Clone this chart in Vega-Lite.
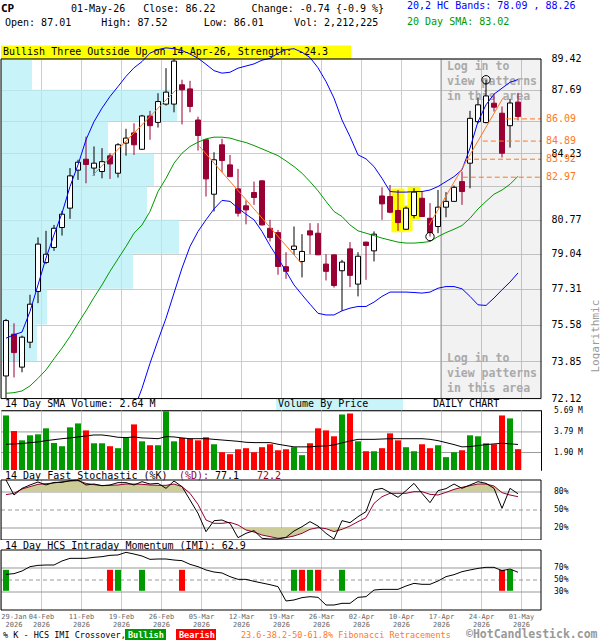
{
  "$schema": "https://vega.github.io/schema/vega-lite/v6.json",
  "padding": 0,
  "spacing": 0,
  "bounds": "flush",
  "background": "white",
  "config": {
    "font": "DejaVu Sans Mono",
    "view": {"stroke": null},
    "scale": {"continuousPadding": 0},
    "axis": {"labelFont": "DejaVu Sans Mono", "titleFont": "DejaVu Sans Mono"},
    "text": {"font": "DejaVu Sans Mono"}
  },
  "datasets": {
    "days": [
      {"day":0,"date":"2026-01-29","open":73.16,"high":75.85,"low":72.15,"close":75.77,"volume":5.30,"volSma":2.66,"upper":74.93,"lower":null,"sma":72.36,"k":100,"d":75.6,"imi":59.4},
      {"day":1,"date":"2026-01-30","open":75.12,"high":75.64,"low":73.09,"close":74.25,"volume":3.87,"volSma":2.69,"upper":75.09,"lower":null,"sma":72.39,"k":75,"d":77.8,"imi":60.6},
      {"day":2,"date":"2026-02-02","open":73.57,"high":75.05,"low":73.33,"close":74.98,"volume":3.02,"volSma":2.72,"upper":75.22,"lower":null,"sma":72.47,"k":86,"d":85,"imi":65},
      {"day":3,"date":"2026-02-03","open":74.74,"high":77.02,"low":74.46,"close":76.56,"volume":3.48,"volSma":2.81,"upper":76.21,"lower":null,"sma":72.70,"k":91.7,"d":88.9,"imi":72.2},
      {"day":4,"date":"2026-02-04","open":77.18,"high":79.87,"low":76.61,"close":79.53,"volume":3.57,"volSma":2.87,"upper":77.50,"lower":null,"sma":73.05,"k":96.7,"d":92.8,"imi":74.4},
      {"day":5,"date":"2026-02-05","open":78.61,"high":80.20,"low":78.53,"close":79.02,"volume":4.12,"volSma":2.99,"upper":78.83,"lower":null,"sma":73.44,"k":91.7,"d":93.9,"imi":75},
      {"day":6,"date":"2026-02-06","open":79.36,"high":80.50,"low":79.19,"close":80.33,"volume":2.78,"volSma":3.08,"upper":80.00,"lower":null,"sma":73.96,"k":96,"d":95,"imi":75},
      {"day":7,"date":"2026-02-09","open":80.37,"high":81.22,"low":79.96,"close":81.05,"volume":2.48,"volSma":3.17,"upper":81.10,"lower":null,"sma":74.46,"k":96,"d":97.2,"imi":81.7},
      {"day":8,"date":"2026-02-10","open":81.36,"high":83.45,"low":80.81,"close":83.04,"volume":4.21,"volSma":3.24,"upper":82.48,"lower":null,"sma":75.01,"k":98.9,"d":98.3,"imi":86.1},
      {"day":9,"date":"2026-02-11","open":83.34,"high":83.89,"low":82.83,"close":83.76,"volume":4.57,"volSma":3.33,"upper":83.62,"lower":null,"sma":75.64,"k":100,"d":98.9,"imi":86.1},
      {"day":10,"date":"2026-02-12","open":83.92,"high":85.13,"low":82.65,"close":83.64,"volume":3.93,"volSma":3.42,"upper":84.96,"lower":null,"sma":76.24,"k":91.7,"d":94.4,"imi":86.1},
      {"day":11,"date":"2026-02-13","open":83.45,"high":84.60,"low":83.05,"close":83.71,"volume":2.75,"volSma":3.51,"upper":85.94,"lower":null,"sma":76.89,"k":93.3,"d":92.2,"imi":87.8},
      {"day":12,"date":"2026-02-17","open":83.27,"high":84.51,"low":82.91,"close":83.79,"volume":2.75,"volSma":3.51,"upper":86.68,"lower":null,"sma":77.50,"k":90.6,"d":90.6,"imi":88.9},
      {"day":13,"date":"2026-02-18","open":84.10,"high":84.24,"low":82.88,"close":83.67,"volume":2.48,"volSma":3.42,"upper":87.32,"lower":null,"sma":78.17,"k":91.7,"d":91.1,"imi":91.1},
      {"day":14,"date":"2026-02-19","open":83.18,"high":84.78,"low":82.95,"close":84.69,"volume":2.30,"volSma":3.30,"upper":87.87,"lower":null,"sma":78.79,"k":95.6,"d":91.7,"imi":91.7},
      {"day":15,"date":"2026-02-20","open":84.78,"high":85.55,"low":84.11,"close":85.05,"volume":3.24,"volSma":3.27,"upper":88.44,"lower":null,"sma":79.41,"k":95.6,"d":93.3,"imi":96.1},
      {"day":16,"date":"2026-02-23","open":85.33,"high":85.85,"low":84.15,"close":84.69,"volume":4.48,"volSma":3.33,"upper":88.92,"lower":71.62,"sma":80.08,"k":91.7,"d":93.3,"imi":93.3},
      {"day":17,"date":"2026-02-24","open":84.45,"high":86.31,"low":84.42,"close":86.25,"volume":2.93,"volSma":3.24,"upper":89.27,"lower":72.59,"sma":80.50,"k":97.2,"d":92.8,"imi":90},
      {"day":18,"date":"2026-02-25","open":86.25,"high":86.53,"low":84.96,"close":85.72,"volume":2.57,"volSma":3.21,"upper":89.75,"lower":73.75,"sma":81.19,"k":93.3,"d":91.7,"imi":84.4},
      {"day":19,"date":"2026-02-26","open":85.90,"high":87.50,"low":85.62,"close":87.04,"volume":2.57,"volSma":3.17,"upper":89.95,"lower":74.83,"sma":82.22,"k":94.4,"d":91.1,"imi":85},
      {"day":20,"date":"2026-02-27","open":86.90,"high":88.90,"low":86.82,"close":87.56,"volume":5.69,"volSma":3.36,"upper":90.05,"lower":75.88,"sma":82.91,"k":86.1,"d":91.1,"imi":85},
      {"day":21,"date":"2026-03-02","open":86.90,"high":89.42,"low":86.45,"close":89.30,"volume":2.93,"volSma":3.33,"upper":90.0,"lower":77.10,"sma":83.71,"k":98.3,"d":93.3,"imi":83.3},
      {"day":22,"date":"2026-03-03","open":87.97,"high":88.25,"low":85.79,"close":87.69,"volume":3.24,"volSma":3.24,"upper":89.9,"lower":78.33,"sma":84.24,"k":88.9,"d":88.9,"imi":82.2},
      {"day":23,"date":"2026-03-04","open":87.74,"high":88.19,"low":86.45,"close":86.77,"volume":3.18,"volSma":3.17,"upper":89.7,"lower":79.41,"sma":84.60,"k":66.7,"d":77.8,"imi":76.1},
      {"day":24,"date":"2026-03-05","open":86.03,"high":86.21,"low":84.38,"close":85.19,"volume":3.02,"volSma":3.17,"upper":89.46,"lower":80.17,"sma":84.83,"k":44.4,"d":59.4,"imi":72.2},
      {"day":25,"date":"2026-03-06","open":84.96,"high":84.98,"low":81.96,"close":82.88,"volume":3.30,"volSma":3.17,"upper":89.12,"lower":80.76,"sma":85.01,"k":13.9,"d":33.3,"imi":66.7},
      {"day":26,"date":"2026-03-09","open":82.08,"high":84.29,"low":81.19,"close":83.89,"volume":2.66,"volSma":3.11,"upper":88.76,"lower":81.32,"sma":85.10,"k":32.2,"d":27.8,"imi":63.3},
      {"day":27,"date":"2026-03-10","open":84.69,"high":85.01,"low":83.23,"close":83.85,"volume":1.93,"volSma":3.05,"upper":88.62,"lower":81.76,"sma":85.10,"k":33.3,"d":27.8,"imi":61.7},
      {"day":28,"date":"2026-03-11","open":83.62,"high":84.15,"low":83.00,"close":83.00,"volume":1.75,"volSma":2.99,"upper":88.67,"lower":81.71,"sma":85.05,"k":27.8,"d":29.4,"imi":55.6},
      {"day":29,"date":"2026-03-12","open":82.36,"high":83.41,"low":80.93,"close":81.10,"volume":2.20,"volSma":2.93,"upper":88.90,"lower":81.36,"sma":84.92,"k":3.9,"d":25,"imi":51.1},
      {"day":30,"date":"2026-03-13","open":81.48,"high":81.76,"low":80.53,"close":81.27,"volume":2.30,"volSma":2.84,"upper":89.02,"lower":81.05,"sma":84.81,"k":11.1,"d":16.7,"imi":51.1},
      {"day":31,"date":"2026-03-16","open":82.17,"high":82.74,"low":81.53,"close":81.91,"volume":1.93,"volSma":2.81,"upper":89.14,"lower":80.76,"sma":84.65,"k":15.6,"d":13.3,"imi":47.8},
      {"day":32,"date":"2026-03-17","open":82.78,"high":82.80,"low":80.47,"close":80.50,"volume":2.39,"volSma":2.81,"upper":89.35,"lower":80.17,"sma":84.47,"k":2.8,"d":8.3,"imi":45},
      {"day":33,"date":"2026-03-18","open":80.33,"high":80.76,"low":79.66,"close":79.86,"volume":2.66,"volSma":2.81,"upper":89.45,"lower":79.45,"sma":84.29,"k":1.7,"d":5.6,"imi":42.2},
      {"day":34,"date":"2026-03-19","open":80.11,"high":80.25,"low":78.00,"close":78.41,"volume":2.11,"volSma":2.66,"upper":89.75,"lower":78.82,"sma":84.11,"k":1.7,"d":2.8,"imi":38.9},
      {"day":35,"date":"2026-03-20","open":78.40,"high":79.12,"low":77.80,"close":78.17,"volume":2.20,"volSma":2.54,"upper":89.95,"lower":78.17,"sma":83.83,"k":4.4,"d":3.9,"imi":15},
      {"day":36,"date":"2026-03-23","open":79.26,"high":80.42,"low":78.99,"close":79.43,"volume":2.39,"volSma":2.42,"upper":90.0,"lower":77.50,"sma":83.53,"k":15,"d":6.7,"imi":16.7},
      {"day":37,"date":"2026-03-24","open":78.66,"high":80.03,"low":77.87,"close":79.16,"volume":1.66,"volSma":2.42,"upper":89.8,"lower":77.02,"sma":83.18,"k":22.2,"d":11.1,"imi":20.6},
      {"day":38,"date":"2026-03-25","open":80.20,"high":80.59,"low":79.02,"close":79.99,"volume":2.75,"volSma":2.42,"upper":89.5,"lower":76.56,"sma":82.74,"k":30.6,"d":17.8,"imi":22.2},
      {"day":39,"date":"2026-03-26","open":80.08,"high":80.59,"low":78.99,"close":78.99,"volume":4.12,"volSma":2.48,"upper":88.92,"lower":76.12,"sma":82.26,"k":23.3,"d":20.6,"imi":21.1},
      {"day":40,"date":"2026-03-27","open":78.53,"high":79.02,"low":77.72,"close":78.17,"volume":3.93,"volSma":2.51,"upper":88.15,"lower":76.04,"sma":81.71,"k":11.1,"d":18.9,"imi":8.3},
      {"day":41,"date":"2026-03-30","open":78.99,"high":79.00,"low":77.37,"close":77.47,"volume":3.39,"volSma":2.60,"upper":87.23,"lower":76.04,"sma":81.19,"k":1.7,"d":13.9,"imi":8.3},
      {"day":42,"date":"2026-03-31","open":78.20,"high":78.74,"low":76.24,"close":78.63,"volume":5.39,"volSma":2.78,"upper":86.03,"lower":76.24,"sma":80.93,"k":32.2,"d":17.8,"imi":11.1},
      {"day":43,"date":"2026-04-01","open":79.29,"high":79.63,"low":77.39,"close":77.97,"volume":5.48,"volSma":2.96,"upper":85.13,"lower":76.37,"sma":80.50,"k":28.9,"d":23.3,"imi":11.1},
      {"day":44,"date":"2026-04-02","open":77.54,"high":79.12,"low":76.94,"close":78.92,"volume":2.93,"volSma":3.11,"upper":84.15,"lower":76.45,"sma":80.20,"k":38.9,"d":30.6,"imi":21.1},
      {"day":45,"date":"2026-04-06","open":79.63,"high":79.65,"low":77.75,"close":79.46,"volume":2.02,"volSma":3.11,"upper":83.94,"lower":76.45,"sma":80.08,"k":47.2,"d":37.2,"imi":22.2},
      {"day":46,"date":"2026-04-07","open":79.19,"high":80.17,"low":78.66,"close":80.03,"volume":2.02,"volSma":3.11,"upper":83.53,"lower":76.66,"sma":79.96,"k":83.3,"d":61.1,"imi":33.3},
      {"day":47,"date":"2026-04-08","open":81.99,"high":82.44,"low":80.76,"close":81.58,"volume":2.30,"volSma":3.14,"upper":82.91,"lower":76.94,"sma":79.83,"k":86.1,"d":72.2,"imi":34.4},
      {"day":48,"date":"2026-04-09","open":81.96,"high":82.56,"low":81.10,"close":81.15,"volume":3.66,"volSma":3.17,"upper":82.22,"lower":77.15,"sma":79.73,"k":78.9,"d":77.8,"imi":34.4},
      {"day":49,"date":"2026-04-10","open":81.24,"high":82.30,"low":80.20,"close":80.62,"volume":3.02,"volSma":3.17,"upper":82.19,"lower":77.15,"sma":79.63,"k":71.1,"d":77.8,"imi":34.4},
      {"day":50,"date":"2026-04-13","open":80.28,"high":81.44,"low":80.25,"close":81.36,"volume":2.39,"volSma":3.17,"upper":82.19,"lower":77.15,"sma":79.58,"k":82.2,"d":77.8,"imi":40},
      {"day":51,"date":"2026-04-14","open":80.98,"high":82.39,"low":80.84,"close":82.19,"volume":2.02,"volSma":3.17,"upper":82.22,"lower":77.13,"sma":79.58,"k":94.4,"d":80.6,"imi":44.4},
      {"day":52,"date":"2026-04-15","open":81.87,"high":82.22,"low":80.92,"close":80.93,"volume":2.66,"volSma":3.17,"upper":82.22,"lower":77.10,"sma":79.61,"k":77.8,"d":80.6,"imi":42.8},
      {"day":53,"date":"2026-04-16","open":80.84,"high":81.62,"low":79.91,"close":80.11,"volume":2.30,"volSma":3.11,"upper":82.30,"lower":77.15,"sma":79.66,"k":62.2,"d":76.1,"imi":42.8},
      {"day":54,"date":"2026-04-17","open":80.42,"high":82.30,"low":80.08,"close":81.41,"volume":2.57,"volSma":2.99,"upper":82.48,"lower":77.34,"sma":79.91,"k":82.2,"d":75,"imi":48.3},
      {"day":55,"date":"2026-04-20","open":81.41,"high":82.19,"low":80.89,"close":81.71,"volume":1.48,"volSma":2.81,"upper":82.74,"lower":77.42,"sma":80.11,"k":85.6,"d":79.4,"imi":55.6},
      {"day":56,"date":"2026-04-21","open":81.71,"high":82.53,"low":81.70,"close":82.44,"volume":1.93,"volSma":2.63,"upper":83.00,"lower":77.42,"sma":80.28,"k":93.3,"d":84.4,"imi":58.9},
      {"day":57,"date":"2026-04-22","open":82.74,"high":83.27,"low":81.53,"close":82.22,"volume":2.11,"volSma":2.42,"upper":83.36,"lower":77.31,"sma":80.47,"k":86.1,"d":87.8,"imi":63.9},
      {"day":58,"date":"2026-04-23","open":83.71,"high":86.53,"low":82.39,"close":86.12,"volume":3.48,"volSma":2.45,"upper":84.51,"lower":76.94,"sma":80.84,"k":91.7,"d":90.6,"imi":66.7},
      {"day":59,"date":"2026-04-24","open":85.94,"high":87.26,"low":85.85,"close":86.86,"volume":3.39,"volSma":2.54,"upper":85.94,"lower":76.53,"sma":81.32,"k":97.2,"d":93.3,"imi":69.4},
      {"day":60,"date":"2026-04-27","open":85.89,"high":88.25,"low":85.85,"close":87.35,"volume":2.75,"volSma":2.63,"upper":86.86,"lower":76.50,"sma":81.71,"k":94.4,"d":93.3,"imi":71.1},
      {"day":61,"date":"2026-04-28","open":86.95,"high":87.45,"low":86.49,"close":86.73,"volume":2.66,"volSma":2.69,"upper":87.45,"lower":76.86,"sma":82.08,"k":86.1,"d":90,"imi":71.1},
      {"day":62,"date":"2026-04-29","open":86.40,"high":86.77,"low":84.01,"close":84.24,"volume":5.30,"volSma":2.75,"upper":87.78,"lower":77.26,"sma":82.30,"k":52.8,"d":78.9,"imi":65.6},
      {"day":63,"date":"2026-04-30","open":85.72,"high":87.19,"low":84.54,"close":86.96,"volume":5.03,"volSma":2.70,"upper":88.11,"lower":77.64,"sma":82.60,"k":86.1,"d":75,"imi":68.3},
      {"day":64,"date":"2026-05-01","open":87.01,"high":87.52,"low":86.01,"close":86.22,"volume":2.21,"volSma":2.64,"upper":88.26,"lower":78.09,"sma":83.02,"k":77.1,"d":72.2,"imi":62.9}
    ],
    "vbp": [
      {"lo":73.85,"hi":75.58,"vol":7.2},
      {"lo":75.58,"hi":77.31,"vol":9.2},
      {"lo":77.31,"hi":79.04,"vol":26.4},
      {"lo":79.04,"hi":80.77,"vol":35.6},
      {"lo":80.77,"hi":82.50,"vol":29.2},
      {"lo":82.50,"hi":84.23,"vol":30.6},
      {"lo":84.23,"hi":85.96,"vol":21.4},
      {"lo":85.96,"hi":87.69,"vol":35.2},
      {"lo":87.69,"hi":89.42,"vol":6.2}
    ],
    "trends": [
      {"seg":1,"day":10.8,"price":83.05},
      {"seg":1,"day":21.25,"price":87.69},
      {"seg":2,"day":24.2,"price":84.60},
      {"seg":2,"day":36.9,"price":78.58},
      {"seg":3,"day":52.9,"price":80.50},
      {"seg":3,"day":62.1,"price":87.22}
    ],
    "fib": [
      {"level":86.09,"from":62.5},
      {"level":84.89,"from":59.6},
      {"level":83.92,"from":57.5},
      {"level":82.97,"from":57.1}
    ],
    "signals": [
      {"day":0,"signal":"Bullish"},
      {"day":13,"signal":"Bearish"},
      {"day":14,"signal":"Bullish"},
      {"day":17,"signal":"Bullish"},
      {"day":22,"signal":"Bearish"},
      {"day":36,"signal":"Bullish"},
      {"day":37,"signal":"Bearish"},
      {"day":38,"signal":"Bullish"},
      {"day":39,"signal":"Bearish"},
      {"day":42,"signal":"Bullish"},
      {"day":62,"signal":"Bearish"},
      {"day":63,"signal":"Bullish"}
    ],
    "volLevels": [
      {"v":1.9,"label":"1.90 M"},
      {"v":3.79,"label":"3.79 M"},
      {"v":5.69,"label":"5.69 M"}
    ],
    "stochLevels": [
      {"v":20,"label":"20%","kind":"band"},
      {"v":50,"label":"50%","kind":"mid"},
      {"v":80,"label":"80%","kind":"band"}
    ],
    "imiLevels": [
      {"v":30,"label":"30%","kind":"band"},
      {"v":50,"label":"50%","kind":"mid"},
      {"v":70,"label":"70%","kind":"band"}
    ]
  },
  "vconcat": [
    {
      "width": 540,
      "height": 410,
      "layer": [
        {
          "data": {"name": "vbp"},
          "mark": {"type": "rect", "color": "#b0eef7", "opacity": 0.7},
          "encoding": {
            "x": {"field": "vol", "type": "quantitative", "scale": {"domain": [0, 108], "nice": false, "zero": false, "padding": 0}, "axis": null},
            "x2": {"datum": 0},
            "y": {
              "field": "lo", "type": "quantitative",
              "scale": {"type": "log", "domain": [71.6, 92.82], "nice": false, "zero": false, "padding": 0},
              "axis": {
                "orient": "right",
                "values": [72.12, 73.85, 75.58, 77.31, 79.04, 80.77, 82.5, 84.23, 85.96, 87.69, 89.42],
                "labelExpr": "datum.value == 82.5 || datum.value == 85.96 ? '' : format(datum.value, '.2f')",
                "grid": true, "gridColor": "#cccccc", "ticks": false, "domain": false,
                "labelPadding": 10, "labelFontSize": 10, "labelColor": "black",
                "labelOverlap": false, "labelFlush": false, "labelBaseline": "middle",
                "title": "Logarithmic", "titleColor": "#999999", "titleFontSize": 11, "titleFontWeight": "normal",
                "titleAngle": 270, "titleAlign": "left", "titleBaseline": "middle", "titleX": 54, "titleY": 372
              }
            },
            "y2": {"field": "hi"}
          }
        },
        {
          "data": {"name": "days"},
          "layer": [
            {
              "data": {"values": [{}]},
              "mark": {"type": "rect", "color": "white"},
              "encoding": {
                "x": {
                  "datum": -0.625, "type": "quantitative",
                  "scale": {"domain": [-0.625, 66.875], "nice": false, "zero": false, "padding": 0},
                  "axis": {"values": [-0.625, 4.375, 9.375, 14.375, 19.375, 24.375, 29.375, 34.375, 39.375, 44.375, 49.375, 54.375, 59.375, 64.375], "labels": false, "ticks": false, "domain": false, "grid": true, "gridColor": "#cccccc", "title": null, "minExtent": 0, "maxExtent": 0}
                },
                "x2": {"datum": 66.875},
                "y": {"datum": 89.42, "type": "quantitative"},
                "y2": {"datum": 92.82}
              }
            },
            {
              "data": {"values": [{}]},
              "mark": {"type": "rect", "color": "black", "opacity": 0.05},
              "encoding": {
                "x": {"datum": 54.375, "type": "quantitative"}, "x2": {"datum": 66.875},
                "y": {"datum": 72.12, "type": "quantitative"}, "y2": {"datum": 89.42}
              }
            },
            {
              "data": {"values": [{}]},
              "mark": {"type": "rule", "color": "#999999", "strokeWidth": 1},
              "encoding": {
                "x": {"datum": 54.375, "type": "quantitative"},
                "y": {"datum": 72.12, "type": "quantitative"}, "y2": {"datum": 89.42}
              }
            },
            {
              "data": {"values": [{}]},
              "mark": {"type": "rect", "color": "#ffff00"},
              "encoding": {
                "x": {"datum": -0.625, "type": "quantitative"}, "x2": {"datum": 43.125},
                "y": {"datum": 89.42, "type": "quantitative"}, "y2": {"datum": 90.18}
              }
            },
            {
              "data": {"values": [{}]},
              "mark": {"type": "text", "align": "left", "baseline": "middle", "fontSize": 10, "color": "black"},
              "encoding": {
                "x": {"datum": -0.375, "type": "quantitative"},
                "y": {"datum": 89.81, "type": "quantitative"},
                "text": {"value": "Bullish Three Outside Up on 14-Apr-26, Strength: -24.3"}
              }
            },
            {
              "data": {"values": [{}]},
              "mark": {"type": "text", "align": "left", "baseline": "top", "fontSize": 11.5, "fontWeight": "bold", "color": "#aaaaaa", "lineHeight": 15},
              "encoding": {
                "x": {"datum": 55.125, "type": "quantitative"},
                "y": {"datum": 89.3, "type": "quantitative"},
                "text": {"value": ["Log in to", "view patterns", "in this area"]}
              }
            },
            {
              "data": {"values": [{}]},
              "mark": {"type": "text", "align": "left", "baseline": "top", "fontSize": 11.5, "fontWeight": "bold", "color": "#aaaaaa", "lineHeight": 15},
              "encoding": {
                "x": {"datum": 55.125, "type": "quantitative"},
                "y": {"datum": 74.23, "type": "quantitative"},
                "text": {"value": ["Log in to", "view patterns", "in this area"]}
              }
            },
            {
              "transform": [{"filter": "datum.day >= 49 && datum.day <= 51"}],
              "mark": {"type": "bar", "width": 10, "color": "#ffff00", "stroke": "#ffff00", "strokeWidth": 3},
              "encoding": {
                "x": {"field": "day", "type": "quantitative"},
                "y": {"field": "low", "type": "quantitative"},
                "y2": {"field": "high"}
              }
            },
            {
              "mark": {"type": "rule", "strokeWidth": 1},
              "encoding": {
                "x": {"field": "day", "type": "quantitative"},
                "y": {"field": "low", "type": "quantitative"},
                "y2": {"field": "high"},
                "color": {"condition": {"test": "datum.close < datum.open", "value": "#990033"}, "value": "black"}
              }
            },
            {
              "mark": {"type": "bar", "width": 5, "strokeWidth": 1},
              "encoding": {
                "x": {"field": "day", "type": "quantitative"},
                "y": {"field": "open", "type": "quantitative"},
                "y2": {"field": "close"},
                "fill": {"condition": {"test": "datum.close < datum.open", "value": "#990033"}, "value": "white"},
                "stroke": {"condition": {"test": "datum.close < datum.open", "value": "#990033"}, "value": "black"}
              }
            },
            {
              "mark": {"type": "line", "color": "#009900", "strokeWidth": 1},
              "encoding": {
                "x": {"field": "day", "type": "quantitative"},
                "y": {"field": "sma", "type": "quantitative"}
              }
            },
            {
              "mark": {"type": "line", "color": "#0000ff", "strokeWidth": 1},
              "encoding": {
                "x": {"field": "day", "type": "quantitative"},
                "y": {"field": "upper", "type": "quantitative"}
              }
            },
            {
              "mark": {"type": "line", "color": "#0000ff", "strokeWidth": 1},
              "encoding": {
                "x": {"field": "day", "type": "quantitative"},
                "y": {"field": "lower", "type": "quantitative"}
              }
            },
            {
              "data": {"name": "trends"},
              "mark": {"type": "line", "color": "#ff7722", "strokeWidth": 1},
              "encoding": {
                "x": {"field": "day", "type": "quantitative"},
                "y": {"field": "price", "type": "quantitative"},
                "detail": {"field": "seg"}
              }
            },
            {
              "data": {"name": "fib"},
              "mark": {"type": "rule", "color": "#ff7722", "strokeWidth": 1, "strokeDash": [5, 3]},
              "encoding": {
                "x": {"field": "from", "type": "quantitative"},
                "x2": {"datum": 66.875},
                "y": {"field": "level", "type": "quantitative"}
              }
            },
            {
              "data": {"name": "fib"},
              "mark": {"type": "text", "align": "left", "baseline": "middle", "fontSize": 10, "color": "#ff7722"},
              "encoding": {
                "x": {"datum": 67.5, "type": "quantitative"},
                "y": {"field": "level", "type": "quantitative"},
                "text": {"field": "level", "type": "quantitative", "format": ".2f"}
              }
            },
            {
              "transform": [{"filter": "datum.day == 53"}],
              "mark": {"type": "point", "shape": "circle", "filled": false, "color": "black", "size": 70, "strokeWidth": 1, "opacity": 1},
              "encoding": {
                "x": {"field": "day", "type": "quantitative"},
                "y": {"field": "low", "type": "quantitative"}
              }
            },
            {
              "transform": [{"filter": "datum.day == 60"}],
              "mark": {"type": "point", "shape": "circle", "filled": false, "color": "black", "size": 70, "strokeWidth": 1, "opacity": 1},
              "encoding": {
                "x": {"field": "day", "type": "quantitative"},
                "y": {"field": "high", "type": "quantitative"}
              }
            },
            {
              "data": {"values": [{}]},
              "mark": {"type": "rect", "color": "white"},
              "encoding": {
                "x": {"datum": -0.625, "type": "quantitative"}, "x2": {"datum": 66.875},
                "y": {"datum": 71.6, "type": "quantitative"}, "y2": {"datum": 72.12}
              }
            },
            {
              "data": {"values": [{}]},
              "mark": {"type": "rect", "color": "#c8f4fa"},
              "encoding": {
                "x": {"datum": 33.75, "type": "quantitative"}, "x2": {"datum": 49.625},
                "y": {"datum": 71.6, "type": "quantitative"}, "y2": {"datum": 72.12}
              }
            },
            {
              "data": {"values": [{}]},
              "mark": {"type": "text", "align": "left", "baseline": "middle", "fontSize": 10, "color": "black"},
              "encoding": {
                "x": {"datum": -0.125, "type": "quantitative"},
                "y": {"datum": 71.85, "type": "quantitative"},
                "text": {"value": "14 Day SMA Volume: 2.64 M"}
              }
            },
            {
              "data": {"values": [{}]},
              "mark": {"type": "text", "align": "left", "baseline": "middle", "fontSize": 10, "color": "black"},
              "encoding": {
                "x": {"datum": 34, "type": "quantitative"},
                "y": {"datum": 71.85, "type": "quantitative"},
                "text": {"value": "Volume By Price"}
              }
            },
            {
              "data": {"values": [{}]},
              "mark": {"type": "text", "align": "left", "baseline": "middle", "fontSize": 10, "color": "black"},
              "encoding": {
                "x": {"datum": 53.375, "type": "quantitative"},
                "y": {"datum": 71.85, "type": "quantitative"},
                "text": {"value": "DAILY CHART"}
              }
            },
            {
              "data": {"values": [{}]},
              "mark": {"type": "rect", "fillOpacity": 0, "stroke": "black", "strokeWidth": 1},
              "encoding": {
                "x": {"datum": -0.625, "type": "quantitative"}, "x2": {"datum": 66.875},
                "y": {"datum": 72.12, "type": "quantitative"}, "y2": {"datum": 89.42}
              }
            },
            {
              "data": {"values": [{}]},
              "mark": {"type": "text", "align": "left", "baseline": "middle", "fontSize": 11, "fontWeight": "bold", "color": "black"},
              "encoding": {
                "x": {"datum": -0.625, "type": "quantitative"},
                "y": {"datum": 92.29, "type": "quantitative"},
                "text": {"value": "CP"}
              }
            },
            {
              "data": {"values": [{}]},
              "mark": {"type": "text", "align": "left", "baseline": "middle", "fontSize": 10, "color": "black"},
              "encoding": {
                "x": {"datum": 8.125, "type": "quantitative"},
                "y": {"datum": 92.29, "type": "quantitative"},
                "text": {"value": "01-May-26\u00a0\u00a0\u00a0Close: 86.22\u00a0\u00a0\u00a0\u00a0\u00a0\u00a0Change: -0.74 {-0.9 %}"}
              }
            },
            {
              "data": {"values": [{}]},
              "mark": {"type": "text", "align": "left", "baseline": "middle", "fontSize": 10, "color": "black"},
              "encoding": {
                "x": {"datum": -0.125, "type": "quantitative"},
                "y": {"datum": 91.48, "type": "quantitative"},
                "text": {"value": "Open: 87.01\u00a0\u00a0\u00a0\u00a0\u00a0High: 87.52\u00a0\u00a0\u00a0\u00a0\u00a0\u00a0Low: 86.01\u00a0\u00a0\u00a0\u00a0\u00a0Vol: 2,212,225"}
              }
            },
            {
              "data": {"values": [{}]},
              "mark": {"type": "text", "align": "left", "baseline": "middle", "fontSize": 10, "color": "#0000ff"},
              "encoding": {
                "x": {"datum": 50.125, "type": "quantitative"},
                "y": {"datum": 92.47, "type": "quantitative"},
                "text": {"value": "20,2 HC Bands: 78.09 , 88.26"}
              }
            },
            {
              "data": {"values": [{}]},
              "mark": {"type": "text", "align": "left", "baseline": "middle", "fontSize": 10, "color": "#009900"},
              "encoding": {
                "x": {"datum": 50.125, "type": "quantitative"},
                "y": {"datum": 91.54, "type": "quantitative"},
                "text": {"value": "20 Day SMA: 83.02"}
              }
            }
          ]
        }
      ],
      "resolve": {"scale": {"x": "independent"}, "axis": {"x": "independent"}}
    },
    {
      "width": 540,
      "height": 60,
      "view": {"stroke": "black", "strokeWidth": 1},
      "data": {"name": "days"},
      "layer": [
        {
          "data": {"name": "volLevels"},
          "mark": {"type": "rule", "color": "#999999", "strokeWidth": 1},
          "encoding": {
            "x": {
              "datum": -0.625, "type": "quantitative",
              "scale": {"domain": [-0.625, 66.875], "nice": false, "zero": false, "padding": 0},
              "axis": {"values": [-0.625, 4.375, 9.375, 14.375, 19.375, 24.375, 29.375, 34.375, 39.375, 44.375, 49.375, 54.375, 59.375, 64.375], "labels": false, "ticks": false, "domain": false, "grid": true, "gridColor": "#cccccc", "title": null, "minExtent": 0, "maxExtent": 0}
            },
            "x2": {"datum": 66.875},
            "y": {"field": "v", "type": "quantitative", "scale": {"domain": [0.3, 5.8], "nice": false, "zero": false, "padding": 0}, "axis": null}
          }
        },
        {
          "mark": {"type": "bar", "width": 6, "clip": true},
          "encoding": {
            "x": {"field": "day", "type": "quantitative"},
            "y": {"field": "volume", "type": "quantitative"},
            "color": {"condition": {"test": "datum.close < datum.open", "value": "#ff0000"}, "value": "#009900"}
          }
        },
        {
          "mark": {"type": "line", "color": "black", "strokeWidth": 1},
          "encoding": {
            "x": {"field": "day", "type": "quantitative"},
            "y": {"field": "volSma", "type": "quantitative"}
          }
        },
        {
          "data": {"name": "volLevels"},
          "mark": {"type": "text", "align": "left", "baseline": "middle", "fontSize": 8, "color": "black"},
          "encoding": {
            "x": {"datum": 68.5, "type": "quantitative"},
            "y": {"field": "v", "type": "quantitative"},
            "text": {"field": "label"}
          }
        }
      ]
    },
    {
      "width": 540,
      "height": 70,
      "data": {"name": "days"},
      "layer": [
        {
          "data": {"values": [{}]},
          "mark": {"type": "rect", "color": "white"},
          "encoding": {
            "x": {
              "datum": -0.625, "type": "quantitative",
              "scale": {"domain": [-0.625, 66.875], "nice": false, "zero": false, "padding": 0},
              "axis": {"values": [-0.625, 4.375, 9.375, 14.375, 19.375, 24.375, 29.375, 34.375, 39.375, 44.375, 49.375, 54.375, 59.375, 64.375], "labels": false, "ticks": false, "domain": false, "grid": true, "gridColor": "#cccccc", "title": null, "minExtent": 0, "maxExtent": 0}
            },
            "x2": {"datum": 66.875},
            "y": {"datum": 100, "type": "quantitative", "scale": {"domain": [0, 116.67], "nice": false, "zero": false, "padding": 0}, "axis": null},
            "y2": {"datum": 116.67}
          }
        },
        {
          "data": {"name": "stochLevels"},
          "transform": [{"filter": "datum.kind == 'band'"}],
          "mark": {"type": "rule", "color": "#999999", "strokeWidth": 1},
          "encoding": {
            "x": {"datum": -0.625, "type": "quantitative"}, "x2": {"datum": 66.875},
            "y": {"field": "v", "type": "quantitative"}
          }
        },
        {
          "data": {"name": "stochLevels"},
          "transform": [{"filter": "datum.kind == 'mid'"}],
          "mark": {"type": "rule", "color": "#999999", "strokeWidth": 1, "strokeDash": [4, 3]},
          "encoding": {
            "x": {"datum": -0.625, "type": "quantitative"}, "x2": {"datum": 66.875},
            "y": {"field": "v", "type": "quantitative"}
          }
        },
        {
          "transform": [{"calculate": "max(datum.d, 80)", "as": "dTop"}],
          "mark": {"type": "area", "color": "#cccc99"},
          "encoding": {
            "x": {"field": "day", "type": "quantitative"},
            "y": {"field": "dTop", "type": "quantitative"},
            "y2": {"datum": 80}
          }
        },
        {
          "transform": [{"calculate": "min(datum.d, 20)", "as": "dBot"}],
          "mark": {"type": "area", "color": "#cccc99"},
          "encoding": {
            "x": {"field": "day", "type": "quantitative"},
            "y": {"field": "dBot", "type": "quantitative"},
            "y2": {"datum": 20}
          }
        },
        {
          "mark": {"type": "line", "color": "#990033", "strokeWidth": 1},
          "encoding": {
            "x": {"field": "day", "type": "quantitative"},
            "y": {"field": "d", "type": "quantitative"}
          }
        },
        {
          "mark": {"type": "line", "color": "black", "strokeWidth": 1},
          "encoding": {
            "x": {"field": "day", "type": "quantitative"},
            "y": {"field": "k", "type": "quantitative"}
          }
        },
        {
          "data": {"values": [{}]},
          "mark": {"type": "rect", "fillOpacity": 0, "stroke": "black", "strokeWidth": 1},
          "encoding": {
            "x": {"datum": -0.625, "type": "quantitative"}, "x2": {"datum": 66.875},
            "y": {"datum": 0, "type": "quantitative"}, "y2": {"datum": 100}
          }
        },
        {
          "data": {"name": "stochLevels"},
          "mark": {"type": "text", "align": "left", "baseline": "middle", "fontSize": 8, "color": "black"},
          "encoding": {
            "x": {"datum": 68.5, "type": "quantitative"},
            "y": {"field": "v", "type": "quantitative"},
            "text": {"field": "label"}
          }
        },
        {
          "data": {"values": [{}]},
          "mark": {"type": "text", "align": "left", "baseline": "middle", "fontSize": 10, "color": "black"},
          "encoding": {
            "x": {"datum": -0.125, "type": "quantitative"},
            "y": {"datum": 106.7, "type": "quantitative"},
            "text": {"value": "14 Day Fast Stochastic (%K)"}
          }
        },
        {
          "data": {"values": [{}]},
          "mark": {"type": "text", "align": "left", "baseline": "middle", "fontSize": 10, "color": "#990033"},
          "encoding": {
            "x": {"datum": 21.625, "type": "quantitative"},
            "y": {"datum": 106.7, "type": "quantitative"},
            "text": {"value": "(%D):"}
          }
        },
        {
          "data": {"values": [{}]},
          "mark": {"type": "text", "align": "left", "baseline": "middle", "fontSize": 10, "color": "black"},
          "encoding": {
            "x": {"datum": 26.125, "type": "quantitative"},
            "y": {"datum": 106.7, "type": "quantitative"},
            "text": {"value": "77.1"}
          }
        },
        {
          "data": {"values": [{}]},
          "mark": {"type": "text", "align": "left", "baseline": "middle", "fontSize": 10, "color": "#990033"},
          "encoding": {
            "x": {"datum": 31.375, "type": "quantitative"},
            "y": {"datum": 106.7, "type": "quantitative"},
            "text": {"value": "72.2"}
          }
        }
      ]
    },
    {
      "width": 540,
      "height": 70,
      "data": {"name": "days"},
      "layer": [
        {
          "data": {"values": [{}]},
          "mark": {"type": "rect", "color": "white"},
          "encoding": {
            "x": {
              "datum": -0.625, "type": "quantitative",
              "scale": {"domain": [-0.625, 66.875], "nice": false, "zero": false, "padding": 0},
              "axis": {
                "values": [-0.625, 4.375, 9.375, 14.375, 19.375, 24.375, 29.375, 34.375, 39.375, 44.375, 49.375, 54.375, 59.375, 64.375],
                "labelExpr": "[['29-Jan','04-Feb','11-Feb','19-Feb','26-Feb','05-Mar','12-Mar','19-Mar','26-Mar','02-Apr','10-Apr','17-Apr','24-Apr','01-May'][round((datum.value + 0.625) / 5)], '2026']",
                "labelAlign": "center",
                "labelOffset": {"condition": {"test": "datum.value < 0", "value": 12.5}, "value": 0},
                "grid": true, "gridColor": "#cccccc", "ticks": false, "domain": false,
                "labelFontSize": 7, "labelColor": "#666666", "labelLineHeight": 8, "labelPadding": 2,
                "labelFlush": false, "labelOverlap": false, "labelBaseline": "top", "title": null
              }
            },
            "x2": {"datum": 66.875},
            "y": {"datum": 100, "type": "quantitative", "scale": {"domain": [0, 116.67], "nice": false, "zero": false, "padding": 0}, "axis": null},
            "y2": {"datum": 116.67}
          }
        },
        {
          "data": {"name": "imiLevels"},
          "transform": [{"filter": "datum.kind == 'band'"}],
          "mark": {"type": "rule", "color": "#999999", "strokeWidth": 1},
          "encoding": {
            "x": {"datum": -0.625, "type": "quantitative"}, "x2": {"datum": 66.875},
            "y": {"field": "v", "type": "quantitative"}
          }
        },
        {
          "data": {"name": "imiLevels"},
          "transform": [{"filter": "datum.kind == 'mid'"}],
          "mark": {"type": "rule", "color": "#999999", "strokeWidth": 1, "strokeDash": [4, 3]},
          "encoding": {
            "x": {"datum": -0.625, "type": "quantitative"}, "x2": {"datum": 66.875},
            "y": {"field": "v", "type": "quantitative"}
          }
        },
        {
          "data": {"name": "signals"},
          "mark": {"type": "bar", "width": 6},
          "encoding": {
            "x": {"field": "day", "type": "quantitative"},
            "y": {"datum": 32, "type": "quantitative"},
            "y2": {"datum": 67},
            "color": {"field": "signal", "type": "nominal", "scale": {"domain": ["Bullish", "Bearish"], "range": ["#009900", "#ff0000"]}, "legend": null}
          }
        },
        {
          "mark": {"type": "line", "color": "black", "strokeWidth": 1},
          "encoding": {
            "x": {"field": "day", "type": "quantitative"},
            "y": {"field": "imi", "type": "quantitative"}
          }
        },
        {
          "data": {"values": [{}]},
          "mark": {"type": "rect", "fillOpacity": 0, "stroke": "black", "strokeWidth": 1},
          "encoding": {
            "x": {"datum": -0.625, "type": "quantitative"}, "x2": {"datum": 66.875},
            "y": {"datum": 0, "type": "quantitative"}, "y2": {"datum": 100}
          }
        },
        {
          "data": {"name": "imiLevels"},
          "mark": {"type": "text", "align": "left", "baseline": "middle", "fontSize": 8, "color": "black"},
          "encoding": {
            "x": {"datum": 68.5, "type": "quantitative"},
            "y": {"field": "v", "type": "quantitative"},
            "text": {"field": "label"}
          }
        },
        {
          "data": {"values": [{}]},
          "mark": {"type": "text", "align": "left", "baseline": "middle", "fontSize": 10, "color": "black"},
          "encoding": {
            "x": {"datum": -0.125, "type": "quantitative"},
            "y": {"datum": 106.7, "type": "quantitative"},
            "text": {"value": "14 Day HCS Intraday Momentum (IMI): 62.9"}
          }
        }
      ]
    },
    {
      "width": 540,
      "height": 30,
      "data": {"values": [{}]},
      "layer": [
        {
          "mark": {"type": "text", "align": "left", "baseline": "middle", "fontSize": 8.5, "color": "black"},
          "encoding": {
            "x": {"datum": -0.375, "type": "quantitative", "scale": {"domain": [-0.625, 66.875], "nice": false, "zero": false, "padding": 0}, "axis": null},
            "y": {"datum": 0.18, "type": "quantitative", "scale": {"domain": [0, 1], "nice": false, "zero": false, "padding": 0}, "axis": null},
            "text": {"value": "% K - HCS IMI Crossover,"}
          }
        },
        {
          "mark": {"type": "rect", "color": "#009900"},
          "encoding": {
            "x": {"datum": 14.875, "type": "quantitative"}, "x2": {"datum": 20},
            "y": {"datum": 0, "type": "quantitative"}, "y2": {"datum": 0.37}
          }
        },
        {
          "mark": {"type": "text", "align": "left", "baseline": "middle", "fontSize": 8.5, "fontWeight": "bold", "color": "white"},
          "encoding": {
            "x": {"datum": 15.25, "type": "quantitative"},
            "y": {"datum": 0.18, "type": "quantitative"},
            "text": {"value": "Bullish"}
          }
        },
        {
          "mark": {"type": "rect", "color": "#ff0000"},
          "encoding": {
            "x": {"datum": 21.25, "type": "quantitative"}, "x2": {"datum": 26.25},
            "y": {"datum": 0, "type": "quantitative"}, "y2": {"datum": 0.37}
          }
        },
        {
          "mark": {"type": "text", "align": "left", "baseline": "middle", "fontSize": 8.5, "fontWeight": "bold", "color": "white"},
          "encoding": {
            "x": {"datum": 21.625, "type": "quantitative"},
            "y": {"datum": 0.18, "type": "quantitative"},
            "text": {"value": "Bearish"}
          }
        },
        {
          "mark": {"type": "text", "align": "left", "baseline": "middle", "fontSize": 8.5, "color": "#ff7722"},
          "encoding": {
            "x": {"datum": 29.375, "type": "quantitative"},
            "y": {"datum": 0.18, "type": "quantitative"},
            "text": {"value": "23.6-38.2-50-61.8% Fibonacci Retracements"}
          }
        },
        {
          "mark": {"type": "text", "align": "left", "baseline": "middle", "fontSize": 11.5, "fontWeight": "bold", "color": "#999999"},
          "encoding": {
            "x": {"datum": 57.5, "type": "quantitative"},
            "y": {"datum": 0.18, "type": "quantitative"},
            "text": {"value": "©HotCandlestick.com"}
          }
        }
      ]
    }
  ]
}
